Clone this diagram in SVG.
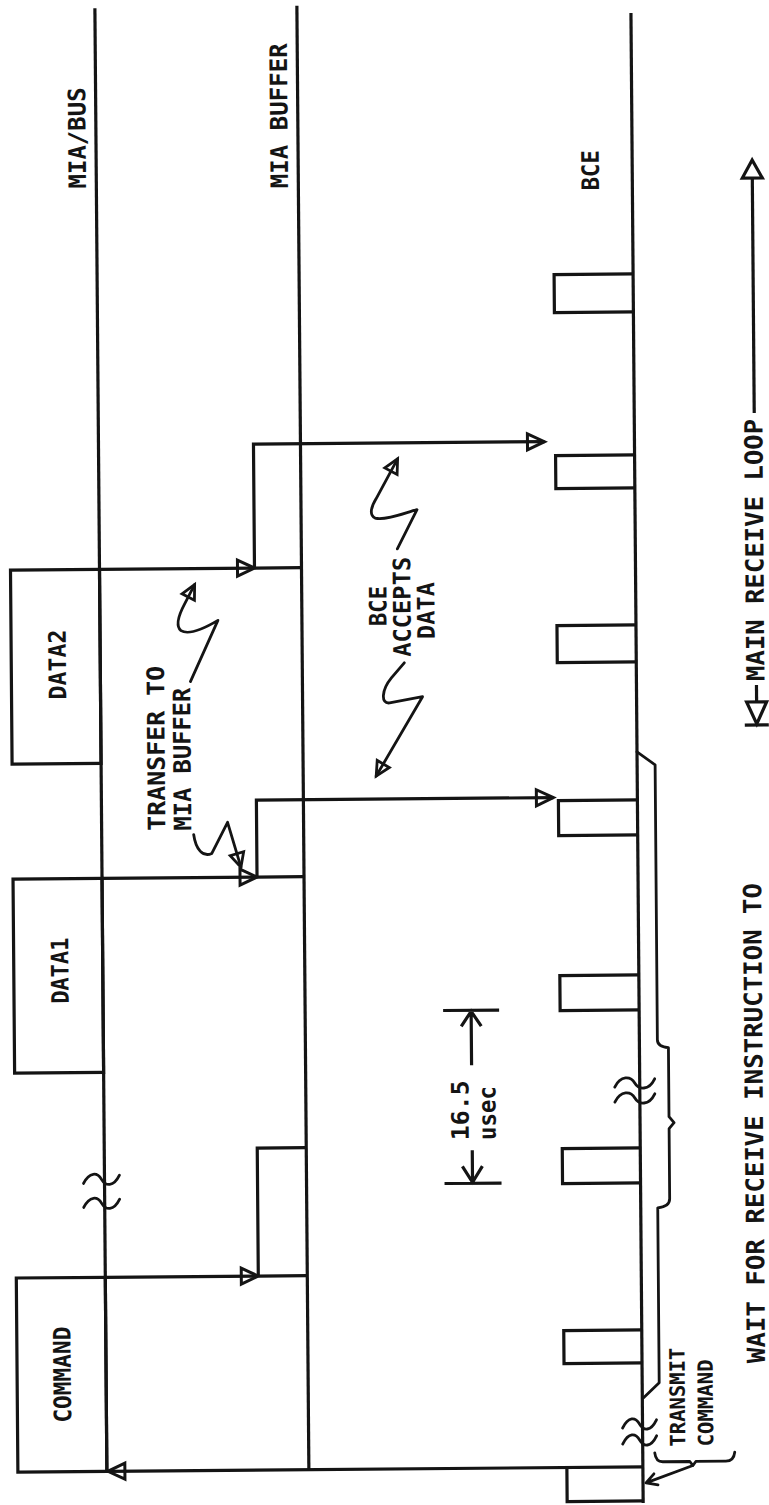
<svg xmlns="http://www.w3.org/2000/svg" width="769" height="1505" viewBox="0 0 769 1505">
<style>
.ln{fill:none;stroke:#141414;stroke-width:3.2;stroke-linecap:butt;stroke-linejoin:miter}
.thin{fill:none;stroke:#141414;stroke-width:2.8;stroke-linecap:round;stroke-linejoin:round}
.box{fill:none;stroke:#141414;stroke-width:3.2}
.t{font-family:'DejaVu Sans Mono','Liberation Mono',monospace;font-weight:bold;font-size:24px;fill:#141414}
.s{font-size:21px}
.l{font-size:25px}
</style>
<defs>
<marker id="ah" viewBox="-20 -11 25 22" markerWidth="25" markerHeight="22" refX="0" refY="0" orient="auto" markerUnits="userSpaceOnUse"><path d="M-17,-8 L0,0 L-17,8 Z" fill="none" stroke="#141414" stroke-width="3"/></marker>
<marker id="ahs" viewBox="-17 -10 22 20" markerWidth="22" markerHeight="20" refX="0" refY="0" orient="auto" markerUnits="userSpaceOnUse"><path d="M-14,-7 L0,0 L-14,7 Z" fill="none" stroke="#141414" stroke-width="2.8"/></marker>
</defs>
<rect width="769" height="1505" fill="#fff"/>
<g transform="rotate(-0.47 384 752)">

<g id="lifeline-mia-bus">
<line class="ln" x1="101" y1="6" x2="101" y2="1469"/>
<text class="t" transform="translate(82,135.5) rotate(-90)" text-anchor="middle" dy="0.36em" textLength="101" lengthAdjust="spacingAndGlyphs">MIA/BUS</text>
<path class="thin" d="M80,1181 C86,1169 94,1170 98,1177 S110,1185 116,1173"/>
<path class="thin" d="M80,1205 C86,1193 94,1194 98,1201 S110,1209 116,1197"/>
</g>

<g id="lifeline-mia-buffer">
<line class="ln" x1="303" y1="5" x2="303" y2="1469"/>
<text class="t" transform="translate(284,115) rotate(-90)" text-anchor="middle" dy="0.36em" textLength="145" lengthAdjust="spacingAndGlyphs">MIA BUFFER</text>
<path class="ln" d="M254,1275 L254,1147 L303,1147"/>
</g>

<g id="lifeline-bce">
<line class="ln" x1="637" y1="15" x2="637" y2="1505"/>
<text class="t" transform="translate(595,172) rotate(-90)" text-anchor="middle" dy="0.36em" textLength="40" lengthAdjust="spacingAndGlyphs">BCE</text>
<path class="ln" d="M637,276 L558,276 L558,314 L637,314"/>
<path class="ln" d="M637,457 L558,457 L558,490 L637,490"/>
<path class="ln" d="M637,627 L558,627 L558,664 L637,664"/>
<path class="ln" d="M637,802 L558,802 L558,837 L637,837"/>
<path class="ln" d="M637,977 L558,977 L558,1012 L637,1012"/>
<path class="ln" d="M637,1150 L559,1150 L559,1185 L637,1185"/>
<path class="ln" d="M637,1332 L559,1332 L559,1365 L637,1365"/>
<path class="ln" d="M561,1469 L561,1503 L637,1503"/>
<path class="thin" d="M612,1089 C618,1077 628,1078 632,1085 S646,1093 652,1081"/>
<path class="thin" d="M612,1104 C618,1092 628,1093 632,1100 S646,1108 652,1096"/>
<path class="thin" d="M617,1430 C623,1418 630,1419 634,1426 S645,1434 651,1422"/>
<path class="thin" d="M617,1446 C623,1434 630,1435 634,1442 S645,1450 651,1438"/>
</g>

<g id="node-command">
<rect class="box" x="12" y="1275" width="89" height="194"/>
<text class="t" transform="translate(57,1372) rotate(-90)" text-anchor="middle" dy="0.36em" textLength="96" lengthAdjust="spacingAndGlyphs">COMMAND</text>
</g>
<g id="node-data1">
<rect class="box" x="12" y="876" width="89" height="194"/>
<text class="t" transform="translate(58,968) rotate(-90)" text-anchor="middle" dy="0.36em" textLength="66" lengthAdjust="spacingAndGlyphs">DATA1</text>
</g>
<g id="node-data2">
<rect class="box" x="12" y="567" width="89" height="194"/>
<text class="t" transform="translate(58,662) rotate(-90)" text-anchor="middle" dy="0.36em" textLength="70" lengthAdjust="spacingAndGlyphs">DATA2</text>
</g>

<g id="connectors">
<path class="ln" d="M101,1275 L254,1275" marker-end="url(#ah)"/>
<path class="ln" d="M254,1275 L303,1275"/>
<path class="ln" d="M101,876 L256,876" marker-end="url(#ah)"/>
<path class="ln" d="M256,876 L303,876"/>
<path class="ln" d="M256,876 L256,799 L553,799" marker-end="url(#ah)"/>
<path class="ln" d="M101,567 L256,567" marker-end="url(#ah)"/>
<path class="ln" d="M256,567 L303,567"/>
<path class="ln" d="M256,567 L256,443 L547,443" marker-end="url(#ah)"/>
<path class="ln" d="M637,1469 L102,1469" marker-end="url(#ah)"/>
</g>

<g id="note-transfer">
<text class="t" transform="translate(156,829) rotate(-90)" dy="0.36em" textLength="165" lengthAdjust="spacingAndGlyphs">TRANSFER TO</text>
<text class="t" transform="translate(182,829) rotate(-90)" dy="0.36em" textLength="143" lengthAdjust="spacingAndGlyphs">MIA BUFFER</text>
<path class="thin" d="M191,680 L219,619 C207,626 190,634 182,629 C176,624 180,613 186,602 L196,583" marker-end="url(#ahs)"/>
<path class="thin" d="M193,833 C195,848 202,856 211,852 L227,821 L240,866" marker-end="url(#ahs)"/>
</g>

<g id="note-bce-accepts">
<text class="t" transform="translate(379,606) rotate(-90)" text-anchor="middle" dy="0.36em" textLength="40" lengthAdjust="spacingAndGlyphs">BCE</text>
<text class="t" transform="translate(403,607) rotate(-90)" text-anchor="middle" dy="0.36em" textLength="100" lengthAdjust="spacingAndGlyphs">ACCEPTS</text>
<text class="t" transform="translate(427,611) rotate(-90)" text-anchor="middle" dy="0.36em" textLength="57" lengthAdjust="spacingAndGlyphs">DATA</text>
<path class="thin" d="M399,549 L419,510 C407,513 387,521 377,518 C371,515 373,507 378,499 L400,459" marker-end="url(#ahs)"/>
<path class="thin" d="M405,663 L392,678 C382,690 381,704 390,703 L423,697 L376,776" marker-end="url(#ahs)"/>
</g>

<g id="dimension-16-5">
<text class="t" transform="translate(457,1111) rotate(-90)" text-anchor="middle" dy="0.36em" textLength="60" lengthAdjust="spacingAndGlyphs">16.5</text>
<text class="t" transform="translate(484,1114) rotate(-90)" text-anchor="middle" dy="0.36em" textLength="54" lengthAdjust="spacingAndGlyphs">usec</text>
<path class="ln" d="M441,1011 L497,1011 M469,1066 L469,1013 M459,1027 L469,1012 L479,1027"/>
<path class="ln" d="M441,1184 L498,1184 M469,1151 L469,1182 M459,1167 L469,1183 L479,1167"/>
</g>

<g id="brace-wait">
<path class="thin" d="M637,754 L655,767 L655,1042 Q655,1049 666,1050 L666,1119 L671,1125 L666,1131 L666,1201 Q666,1209 654,1210 L654,1385 L638,1400"/>
<text class="t l" transform="translate(751,1126) rotate(-90)" text-anchor="middle" dy="0.36em" textLength="480" lengthAdjust="spacingAndGlyphs">WAIT FOR RECEIVE INSTRUCTION TO</text>
</g>

<g id="note-transmit">
<text class="t s" transform="translate(672,1449) rotate(-90)" dy="0.36em" textLength="99" lengthAdjust="spacingAndGlyphs">TRANSMIT</text>
<text class="t s" transform="translate(700,1449) rotate(-90)" dy="0.36em" textLength="87" lengthAdjust="spacingAndGlyphs">COMMAND</text>
<path class="thin" d="M649,1455 Q650,1464 657,1464 L684,1464 L687,1468 L690,1464 L720,1464 Q728,1464 729,1455"/>
<path class="thin" d="M687,1468 L640,1485 M652,1487 L640,1485 L648,1476"/>
</g>

<g id="main-receive-loop">
<text class="t l" transform="translate(756,553) rotate(-90)" text-anchor="middle" dy="0.36em" textLength="262" lengthAdjust="spacingAndGlyphs">MAIN RECEIVE LOOP</text>
<path class="ln" d="M757,416 L757,181"/>
<path class="ln" d="M757,163 L747,181 L767,181 Z"/>
<path class="ln" d="M757,688 L757,705"/>
<path class="ln" d="M757,727 L747,705 L767,705 Z"/>
<path class="ln" d="M745,728 L769,728"/>
</g>

</g>
</svg>
